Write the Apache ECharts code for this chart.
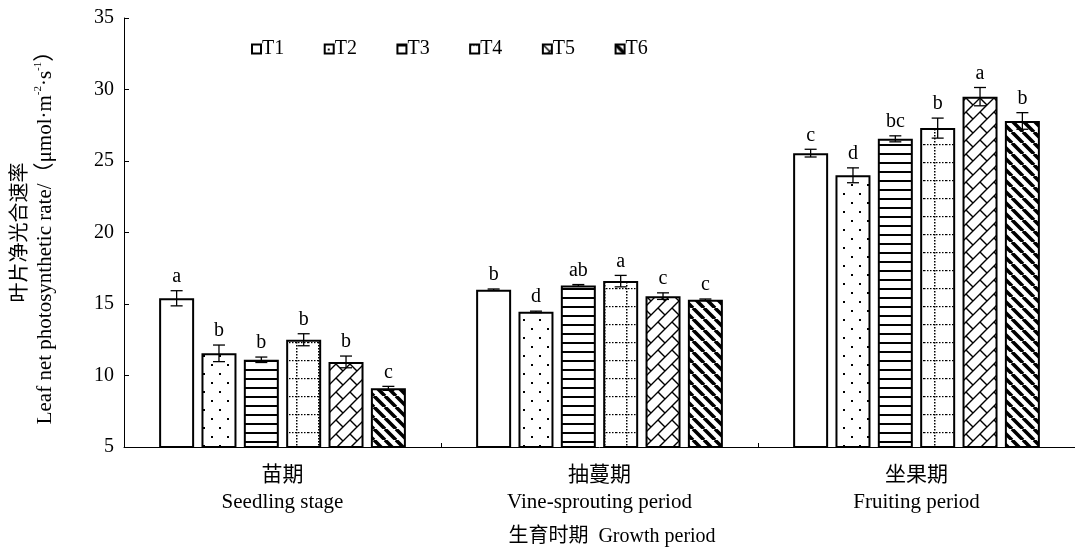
<!DOCTYPE html>
<html>
<head>
<meta charset="utf-8">
<script src="https://cdn.jsdelivr.net/npm/echarts@6/dist/echarts.min.js"></script>
<style>html,body{margin:0;padding:0;background:#fff}#c{width:1075px;height:549px}</style>
</head>
<body>
<div id="c"></div>
<script>
// ---- data ----
const categories = ['苗期\nSeedling stage', '抽蔓期\nVine-sprouting period', '坐果期\nFruiting period'];
const treatments = ['T1', 'T2', 'T3', 'T4', 'T5', 'T6'];
const T1 = [15.4, 16.0, 25.55];
const T2 = [11.55, 14.45, 24.0];
const T3 = [11.1, 16.3, 26.55];
const T4 = [12.5, 16.6, 27.3];
const T5 = [10.95, 15.55, 29.5];
const T6 = [9.1, 15.3, 27.8];
const E1 = [0.53, 0.05, 0.27];
const E2 = [0.58, 0.05, 0.52];
const E3 = [0.19, 0.06, 0.21];
const E4 = [0.42, 0.4, 0.7];
const E5 = [0.41, 0.23, 0.64];
const E6 = [0.14, 0.05, 0.58];
const L1 = ['a', 'b', 'c'];
const L2 = ['b', 'd', 'd'];
const L3 = ['b', 'ab', 'bc'];
const L4 = ['b', 'a', 'b'];
const L5 = ['b', 'c', 'a'];
const L6 = ['c', 'c', 'b'];
const yTicks = [5, 10, 15, 20, 25, 30, 35];

const values = [T1, T2, T3, T4, T5, T6];
const errors = [E1, E2, E3, E4, E5, E6];
const letters = [L1, L2, L3, L4, L5, L6];

const FONT = '"Liberation Serif", "Times New Roman", "Noto Sans CJK SC", serif';

function mkPattern(type) {
  const c = document.createElement('canvas');
  let ctx;
  if (type === 'blank') {
    c.width = 8; c.height = 8; ctx = c.getContext('2d');
    ctx.fillStyle = '#fff'; ctx.fillRect(0, 0, 8, 8);
  } else if (type === 'dots') {
    c.width = 16; c.height = 18; ctx = c.getContext('2d');
    ctx.fillStyle = '#fff'; ctx.fillRect(0, 0, 16, 18);
    ctx.fillStyle = '#000';
    ctx.fillRect(3, 4, 2, 2); ctx.fillRect(11, 13, 2, 2);
  } else if (type === 'hlines') {
    c.width = 9; c.height = 9; ctx = c.getContext('2d');
    ctx.fillStyle = '#fff'; ctx.fillRect(0, 0, 9, 9);
    ctx.fillStyle = '#000'; ctx.fillRect(0, 0, 9, 2);
  } else if (type === 'grid') {
    c.width = 22; c.height = 18; ctx = c.getContext('2d');
    ctx.fillStyle = '#fff'; ctx.fillRect(0, 0, 22, 18);
    ctx.fillStyle = '#000';
    for (let x = 0; x < 22; x += 3) ctx.fillRect(x, 0, 1.5, 1.2);
    for (let y = 0; y < 18; y += 3) ctx.fillRect(10, y, 1.5, 1.5);
  } else if (type === 'brick') {
    const w = 14;
    c.width = w; c.height = w; ctx = c.getContext('2d');
    ctx.fillStyle = '#fff'; ctx.fillRect(0, 0, w, w);
    ctx.strokeStyle = '#000'; ctx.lineWidth = 1.4;
    ctx.beginPath();
    ctx.moveTo(0, w); ctx.lineTo(w, 0);
    ctx.moveTo(-1, 1); ctx.lineTo(1, -1);
    ctx.moveTo(w - 1, w + 1); ctx.lineTo(w + 1, w - 1);
    ctx.moveTo(0, 0); ctx.lineTo(w / 2, w / 2);
    ctx.stroke();
  } else if (type === 'stripes') {
    const w = 11;
    c.width = w; c.height = w; ctx = c.getContext('2d');
    ctx.fillStyle = '#fff'; ctx.fillRect(0, 0, w, w);
    ctx.strokeStyle = '#000'; ctx.lineWidth = 3.6;
    ctx.beginPath();
    for (let k = -1; k <= 1; k++) { ctx.moveTo(k * w, 0); ctx.lineTo(k * w + w, w); }
    ctx.stroke();
  }
  return { image: c, repeat: 'repeat' };
}
const patterns = ['blank', 'dots', 'hlines', 'grid', 'brick', 'stripes'].map(mkPattern);

const BAR_W = 35;
const GAP = 0.21;
const PITCH = BAR_W * (1 + GAP);

const barSeries = treatments.map((t, i) => ({
  name: t,
  type: 'bar',
  data: values[i],
  barWidth: BAR_W,
  barGap: (GAP * 100) + '%',
  itemStyle: { color: patterns[i], borderColor: '#000', borderWidth: 2 },
  emphasis: { disabled: true },
  animation: false
}));

const errData = [];
treatments.forEach((t, i) => {
  categories.forEach((c, j) => {
    errData.push([j, values[i][j], errors[i][j], i, letters[i][j]]);
  });
});

const errSeries = {
  type: 'custom',
  data: errData,
  z: 10,
  animation: false,
  renderItem: function (params, api) {
    const cat = api.value(0), v = api.value(1), e = api.value(2), s = api.value(3);
    const letter = errData[params.dataIndex][4];
    const off = (s - 2.5) * PITCH;
    const top = api.coord([cat, v + e]);
    const bot = api.coord([cat, v - e]);
    const x = top[0] + off;
    const hw = 6;
    const st = { stroke: '#000', lineWidth: 1.3 };
    return {
      type: 'group',
      children: [
        { type: 'line', shape: { x1: x, y1: top[1], x2: x, y2: bot[1] }, style: st },
        { type: 'line', shape: { x1: x - hw, y1: top[1], x2: x + hw, y2: top[1] }, style: st },
        { type: 'line', shape: { x1: x - hw, y1: bot[1], x2: x + hw, y2: bot[1] }, style: st },
        { type: 'text', style: { text: letter, x: x, y: top[1] - 4, textAlign: 'center', textVerticalAlign: 'bottom', fill: '#000', font: '20px ' + FONT } }
      ]
    };
  }
};

const chart = echarts.init(document.getElementById('c'), null, { renderer: 'canvas' });
chart.setOption({
  backgroundColor: '#fff',
  animation: false,
  grid: { left: 124, top: 18, width: 957, height: 429, containLabel: false },
  legend: {
    data: treatments,
    left: 246, top: 34,
    icon: 'rect',
    itemWidth: 9, itemHeight: 9,
    itemGap: 39.5,
    itemStyle: { borderWidth: 2, borderColor: '#000' },
    textStyle: { fontFamily: FONT, fontSize: 20, color: '#000', padding: [0, 0, 0, -4] },
    selectedMode: false
  },
  xAxis: {
    type: 'category',
    data: categories,
    axisLine: { lineStyle: { color: '#000', width: 1 } },
    axisTick: { show: true, inside: true, length: 4, lineStyle: { color: '#000' } },
    axisLabel: { fontFamily: FONT, fontSize: 21, color: '#000', lineHeight: 27, margin: 15 }
  },
  yAxis: {
    type: 'value',
    min: yTicks[0], max: yTicks[yTicks.length - 1], interval: 5,
    splitLine: { show: false },
    axisLine: { show: true, lineStyle: { color: '#000', width: 1 } },
    axisTick: { show: true, inside: true, length: 5, lineStyle: { color: '#000' } },
    axisLabel: { fontFamily: FONT, fontSize: 20, color: '#000', margin: 10 },
    name: '{cn|叶片净光合速率}\n{en|Leaf net photosynthetic rate/（μmol·m}{sup|-2}{en|·s}{sup|-1}{en|）}',
    nameLocation: 'middle',
    nameGap: 66,
    nameRotate: 90,
    nameTextStyle: {
      fontFamily: FONT, color: '#000', lineHeight: 25,
      rich: {
        cn: { fontFamily: FONT, fontSize: 20, color: '#000', lineHeight: 25 },
        en: { fontFamily: FONT, fontSize: 21, color: '#000', lineHeight: 25 },
        sup: { fontFamily: FONT, fontSize: 11, color: '#000', verticalAlign: 'top', lineHeight: 25 }
      }
    }
  },
  graphic: [{
    type: 'text',
    x: 612, y: 537,
    style: { text: '生育时期  Growth period', font: '20px ' + FONT, fill: '#000', textAlign: 'center', textVerticalAlign: 'middle' }
  }],
  series: barSeries.concat([errSeries])
});
</script>
</body>
</html>
